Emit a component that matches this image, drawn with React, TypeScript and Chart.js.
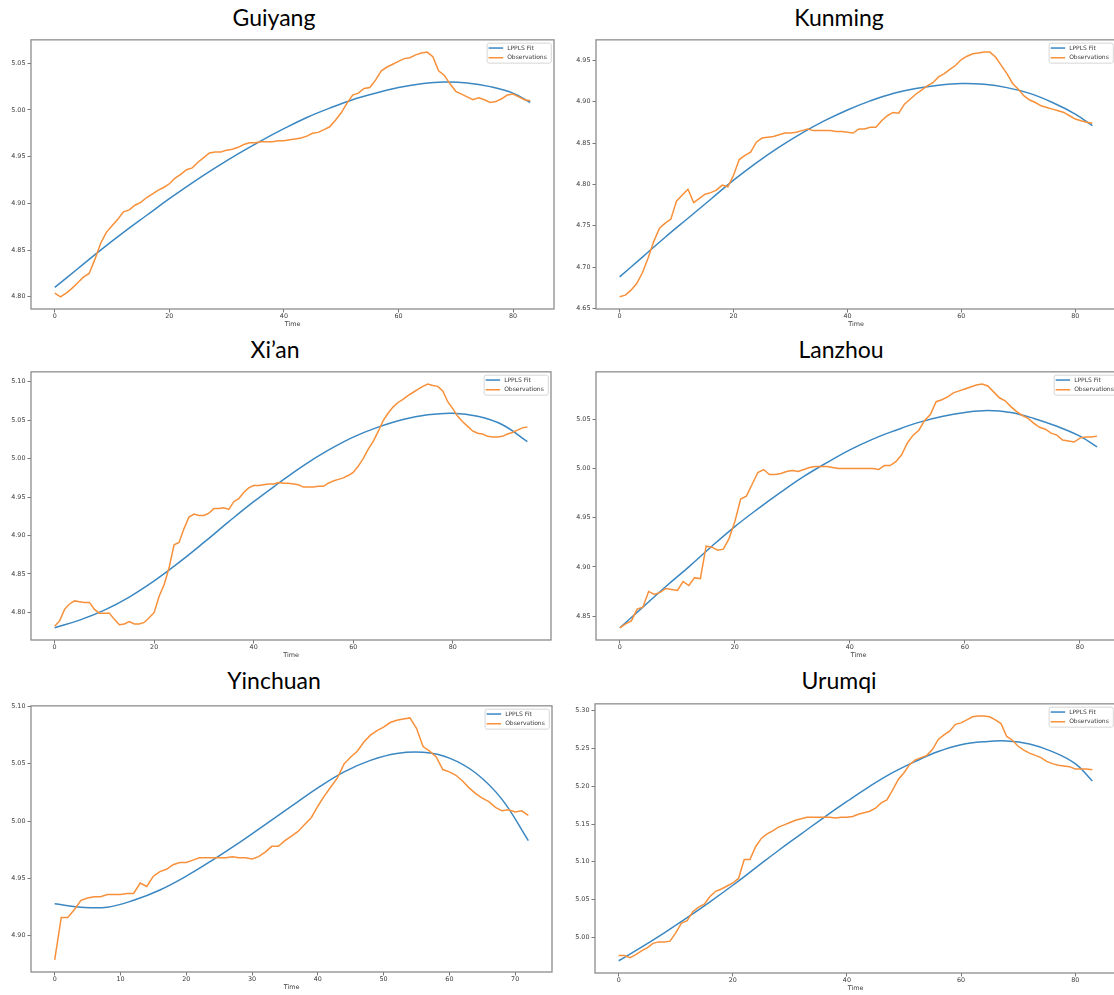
import React, { useEffect, useRef } from "react";
import { Chart, registerables } from "chart.js";

Chart.register(...registerables);

// ---------------- DATA ----------------
const guiyangObs = [4.804, 4.8, 4.804, 4.809, 4.815, 4.821, 4.825, 4.84, 4.857, 4.869, 4.876, 4.883, 4.891, 4.893, 4.898, 4.901, 4.906, 4.91, 4.914, 4.917, 4.921, 4.927, 4.931, 4.936, 4.938, 4.944, 4.949, 4.954, 4.955, 4.955, 4.957, 4.958, 4.96, 4.963, 4.965, 4.965, 4.966, 4.966, 4.966, 4.967, 4.967, 4.968, 4.969, 4.97, 4.972, 4.975, 4.976, 4.979, 4.982, 4.989, 4.997, 5.007, 5.016, 5.018, 5.023, 5.024, 5.032, 5.042, 5.046, 5.049, 5.052, 5.055, 5.056, 5.059, 5.061, 5.062, 5.057, 5.042, 5.037, 5.028, 5.02, 5.017, 5.014, 5.011, 5.013, 5.011, 5.008, 5.009, 5.012, 5.016, 5.017, 5.014, 5.011, 5.01];
const guiyangFitT = [0, 4, 8, 12, 16, 20, 24, 28, 32, 36, 40, 44, 48, 52, 56, 60, 64, 68, 72, 76, 80, 83];
const guiyangFitV = [4.81, 4.83, 4.85, 4.869, 4.887, 4.905, 4.922, 4.938, 4.953, 4.967, 4.98, 4.992, 5.002, 5.011, 5.018, 5.024, 5.028, 5.03, 5.029, 5.025, 5.018, 5.008];
const guiyangXTicks = [0, 20, 40, 60, 80];
const guiyangYTicks = [4.8, 4.85, 4.9, 4.95, 5.0, 5.05];

const kunmingObs = [4.664, 4.666, 4.672, 4.68, 4.693, 4.711, 4.731, 4.747, 4.753, 4.758, 4.78, 4.787, 4.794, 4.778, 4.783, 4.788, 4.79, 4.793, 4.799, 4.797, 4.811, 4.83, 4.835, 4.839, 4.851, 4.856, 4.857, 4.858, 4.86, 4.862, 4.862, 4.863, 4.865, 4.867, 4.865, 4.865, 4.865, 4.865, 4.864, 4.864, 4.863, 4.862, 4.867, 4.867, 4.869, 4.869, 4.877, 4.883, 4.887, 4.886, 4.897, 4.903, 4.909, 4.914, 4.919, 4.923, 4.93, 4.934, 4.939, 4.944, 4.951, 4.955, 4.958, 4.959, 4.96, 4.96, 4.954, 4.944, 4.934, 4.922, 4.915, 4.907, 4.902, 4.899, 4.895, 4.893, 4.891, 4.889, 4.887, 4.883, 4.879, 4.877, 4.875, 4.874];
const kunmingFitT = [0, 4, 8, 12, 16, 20, 24, 28, 32, 36, 40, 44, 48, 52, 56, 60, 64, 68, 72, 76, 80, 83];
const kunmingFitV = [4.688, 4.712, 4.736, 4.759, 4.782, 4.805, 4.826, 4.845, 4.862, 4.877, 4.89, 4.901, 4.91, 4.916, 4.92, 4.922, 4.921, 4.917, 4.91, 4.899, 4.885, 4.871];
const kunmingXTicks = [0, 20, 40, 60, 80];
const kunmingYTicks = [4.65, 4.7, 4.75, 4.8, 4.85, 4.9, 4.95];

const xianObs = [4.782, 4.789, 4.804, 4.811, 4.815, 4.814, 4.813, 4.813, 4.804, 4.799, 4.799, 4.799, 4.791, 4.784, 4.785, 4.788, 4.785, 4.785, 4.787, 4.793, 4.8, 4.821, 4.836, 4.858, 4.888, 4.891, 4.909, 4.924, 4.928, 4.926, 4.926, 4.929, 4.935, 4.935, 4.936, 4.934, 4.944, 4.948, 4.956, 4.962, 4.965, 4.965, 4.966, 4.967, 4.967, 4.969, 4.968, 4.968, 4.967, 4.966, 4.963, 4.963, 4.963, 4.964, 4.964, 4.968, 4.971, 4.973, 4.975, 4.978, 4.982, 4.99, 5.0, 5.012, 5.022, 5.035, 5.049, 5.059, 5.067, 5.073, 5.077, 5.082, 5.086, 5.09, 5.094, 5.097, 5.095, 5.094, 5.088, 5.074, 5.065, 5.055, 5.048, 5.042, 5.036, 5.033, 5.032, 5.029, 5.028, 5.028, 5.029, 5.032, 5.034, 5.037, 5.04, 5.041];
const xianFitT = [0, 5, 10, 15, 20, 25, 30, 35, 40, 45, 50, 55, 60, 65, 70, 75, 80, 85, 90, 95];
const xianFitV = [4.78, 4.79, 4.803, 4.82, 4.841, 4.865, 4.891, 4.918, 4.944, 4.968, 4.991, 5.011, 5.028, 5.041, 5.051, 5.057, 5.059, 5.055, 5.044, 5.022];
const xianXTicks = [0, 20, 40, 60, 80];
const xianYTicks = [4.8, 4.85, 4.9, 4.95, 5.0, 5.05, 5.1];

const lanzhouObs = [4.838, 4.842, 4.845, 4.857, 4.859, 4.875, 4.872, 4.874, 4.878, 4.877, 4.876, 4.885, 4.881, 4.889, 4.888, 4.921, 4.92, 4.917, 4.918, 4.929, 4.946, 4.969, 4.972, 4.984, 4.996, 4.999, 4.994, 4.994, 4.995, 4.997, 4.998, 4.997, 4.999, 5.001, 5.002, 5.002, 5.002, 5.001, 5.0, 5.0, 5.0, 5.0, 5.0, 5.0, 5.0, 4.999, 5.003, 5.003, 5.007, 5.014, 5.026, 5.034, 5.039, 5.049, 5.055, 5.068, 5.07, 5.073, 5.077, 5.079, 5.081, 5.083, 5.085, 5.086, 5.084, 5.078, 5.072, 5.069, 5.063, 5.058, 5.054, 5.051, 5.046, 5.042, 5.04, 5.036, 5.034, 5.029, 5.028, 5.027, 5.031, 5.032, 5.032, 5.033];
const lanzhouFitT = [0, 4, 8, 12, 16, 20, 24, 28, 32, 36, 40, 44, 48, 52, 56, 60, 64, 68, 72, 76, 80, 83];
const lanzhouFitV = [4.838, 4.859, 4.88, 4.9, 4.921, 4.941, 4.959, 4.976, 4.992, 5.006, 5.019, 5.03, 5.039, 5.047, 5.053, 5.057, 5.059, 5.057, 5.051, 5.043, 5.033, 5.022];
const lanzhouXTicks = [0, 20, 40, 60, 80];
const lanzhouYTicks = [4.85, 4.9, 4.95, 5.0, 5.05];

const yinchuanObs = [4.879, 4.916, 4.916, 4.923, 4.931, 4.933, 4.934, 4.934, 4.936, 4.936, 4.936, 4.937, 4.937, 4.946, 4.943, 4.952, 4.956, 4.958, 4.962, 4.964, 4.964, 4.966, 4.968, 4.968, 4.968, 4.968, 4.968, 4.969, 4.968, 4.968, 4.967, 4.969, 4.973, 4.978, 4.978, 4.983, 4.987, 4.991, 4.997, 5.003, 5.013, 5.022, 5.03, 5.038, 5.05, 5.056, 5.061, 5.069, 5.075, 5.079, 5.082, 5.086, 5.088, 5.089, 5.09, 5.081, 5.065, 5.061, 5.056, 5.045, 5.043, 5.04, 5.035, 5.029, 5.024, 5.02, 5.017, 5.012, 5.009, 5.01, 5.008, 5.009, 5.005];
const yinchuanFitT = [0, 4, 8, 12, 16, 20, 24, 28, 32, 36, 40, 44, 48, 52, 56, 60, 64, 68, 72];
const yinchuanFitV = [4.928, 4.925, 4.925, 4.931, 4.94, 4.952, 4.966, 4.981, 4.997, 5.013, 5.029, 5.043, 5.053, 5.059, 5.06, 5.055, 5.042, 5.019, 4.983];
const yinchuanXTicks = [0, 10, 20, 30, 40, 50, 60, 70];
const yinchuanYTicks = [4.9, 4.95, 5.0, 5.05, 5.1];

const urumqiObs = [4.976, 4.976, 4.973, 4.977, 4.982, 4.986, 4.992, 4.994, 4.994, 4.995, 5.006, 5.019, 5.022, 5.034, 5.04, 5.044, 5.054, 5.061, 5.064, 5.068, 5.072, 5.078, 5.103, 5.103, 5.12, 5.131, 5.137, 5.141, 5.146, 5.149, 5.152, 5.155, 5.157, 5.159, 5.159, 5.159, 5.159, 5.159, 5.158, 5.159, 5.159, 5.16, 5.163, 5.165, 5.167, 5.171, 5.178, 5.182, 5.195, 5.209, 5.218, 5.229, 5.235, 5.238, 5.241, 5.249, 5.262, 5.268, 5.273, 5.282, 5.284, 5.288, 5.292, 5.293, 5.293, 5.292, 5.288, 5.283, 5.266, 5.261, 5.253, 5.248, 5.244, 5.241, 5.238, 5.233, 5.23, 5.228, 5.227, 5.226, 5.223, 5.223, 5.223, 5.222];
const urumqiFitT = [0, 4, 8, 12, 16, 20, 24, 28, 32, 36, 40, 44, 48, 52, 56, 60, 64, 68, 72, 76, 80, 83];
const urumqiFitV = [4.969, 4.987, 5.006, 5.026, 5.047, 5.069, 5.092, 5.115, 5.137, 5.159, 5.18, 5.2, 5.218, 5.233, 5.246, 5.255, 5.259, 5.26, 5.256, 5.246, 5.23, 5.207];
const urumqiXTicks = [0, 20, 40, 60, 80];
const urumqiYTicks = [5.0, 5.05, 5.1, 5.15, 5.2, 5.25, 5.3];

const seriesLabels = ["LPPLS Fit", "Observations"];
const xAxisLabel = "Time";

// ---------------- STYLE / LAYOUT ----------------
const FIT_COLOR = "#3a87c2";
const OBS_COLOR = "#f8903a";
const TICK_FONT = { family: "DejaVu Sans", size: 6.4 };
const TEXT_COLOR = "#3a3a3a";

type PanelCfg = {
  title: string;
  obs: number[];
  fitT: number[];
  fitV: number[];
  xTicks: number[];
  yTicks: number[];
  frame: { L: number; T: number; R: number; B: number };
  titleX: number;
  titleBase: number;
};

const panels: PanelCfg[] = [
  { title: "Guiyang", obs: guiyangObs, fitT: guiyangFitT, fitV: guiyangFitV, xTicks: guiyangXTicks, yTicks: guiyangYTicks, frame: { L: 31, T: 36, R: 554, B: 309 }, titleX: 274, titleBase: 26 },
  { title: "Kunming", obs: kunmingObs, fitT: kunmingFitT, fitV: kunmingFitV, xTicks: kunmingXTicks, yTicks: kunmingYTicks, frame: { L: 596, T: 36, R: 1116, B: 309 }, titleX: 839, titleBase: 26 },
  { title: "Xi\u2019an", obs: xianObs, fitT: xianFitT, fitV: xianFitV, xTicks: xianXTicks, yTicks: xianYTicks, frame: { L: 31, T: 368, R: 551, B: 640 }, titleX: 275, titleBase: 358 },
  { title: "Lanzhou", obs: lanzhouObs, fitT: lanzhouFitT, fitV: lanzhouFitV, xTicks: lanzhouXTicks, yTicks: lanzhouYTicks, frame: { L: 596, T: 368, R: 1121, B: 640 }, titleX: 841, titleBase: 358 },
  { title: "Yinchuan", obs: yinchuanObs, fitT: yinchuanFitT, fitV: yinchuanFitV, xTicks: yinchuanXTicks, yTicks: yinchuanYTicks, frame: { L: 31, T: 702, R: 552, B: 972 }, titleX: 274, titleBase: 689 },
  { title: "Urumqi", obs: urumqiObs, fitT: urumqiFitT, fitV: urumqiFitV, xTicks: urumqiXTicks, yTicks: urumqiYTicks, frame: { L: 595, T: 700, R: 1116, B: 973 }, titleX: 839, titleBase: 689 },
];

const PAD = { top: 2, right: 2, bottom: 1, left: 0 };
const X_AXIS_H = 19;
const Y_AXIS_W = 31;

const framePlugin = {
  id: "mplFrameLegend",
  afterDraw(chart: any) {
    const { ctx, chartArea: a } = chart;
    ctx.save();
    ctx.strokeStyle = "#8d8d8d";
    ctx.lineWidth = 1.3;
    ctx.strokeRect(a.left, a.top, a.right - a.left, a.bottom - a.top);

    const ds = chart.data.datasets;
    ctx.font = '6px "DejaVu Sans"';
    const tw = Math.max(...ds.map((d: any) => ctx.measureText(d.label).width));
    const padL = 1.5, hl = 14.5, gap = 4, padR = 4.5;
    const w = padL + hl + gap + tw + padR;
    const h = 20;
    const x = a.right - 2.7 - w;
    const y = a.top + 3.3;
    const r = 2;
    ctx.beginPath();
    ctx.moveTo(x + r, y);
    ctx.lineTo(x + w - r, y);
    ctx.arcTo(x + w, y, x + w, y + r, r);
    ctx.lineTo(x + w, y + h - r);
    ctx.arcTo(x + w, y + h, x + w - r, y + h, r);
    ctx.lineTo(x + r, y + h);
    ctx.arcTo(x, y + h, x, y + h - r, r);
    ctx.lineTo(x, y + r);
    ctx.arcTo(x, y, x + r, y, r);
    ctx.closePath();
    ctx.fillStyle = "rgba(255,255,255,0.85)";
    ctx.fill();
    ctx.strokeStyle = "#d6d6d6";
    ctx.lineWidth = 1;
    ctx.stroke();

    ds.forEach((d: any, i: number) => {
      const cy = y + 4.9 + i * 9.7;
      ctx.strokeStyle = d.borderColor;
      ctx.lineWidth = 1.5;
      ctx.beginPath();
      ctx.moveTo(x + padL, cy);
      ctx.lineTo(x + padL + hl, cy);
      ctx.stroke();
      ctx.fillStyle = TEXT_COLOR;
      ctx.textBaseline = "middle";
      ctx.textAlign = "left";
      ctx.fillText(d.label, x + padL + hl + gap, cy);
    });
    ctx.restore();
  },
};

function Panel({ cfg }: { cfg: PanelCfg }) {
  const ref = useRef<HTMLCanvasElement>(null);
  const { L, T, R, B } = cfg.frame;
  const cl = L - Y_AXIS_W;
  const ct = T - PAD.top;
  const cw = R + PAD.right - cl;
  const ch = B + PAD.bottom + X_AXIS_H - ct;

  useEffect(() => {
    if (!ref.current) return;
    const allY = [...cfg.obs, ...cfg.fitV];
    const yMinD = Math.min(...allY);
    const yMaxD = Math.max(...allY);
    const yr = yMaxD - yMinD;
    const xMaxD = Math.max(cfg.obs.length - 1, cfg.fitT[cfg.fitT.length - 1]);
    const chart = new Chart(ref.current, {
      type: "line",
      data: {
        datasets: [
          {
            label: seriesLabels[0],
            data: cfg.fitT.map((t, i) => ({ x: t, y: cfg.fitV[i] })),
            borderColor: FIT_COLOR,
            backgroundColor: FIT_COLOR,
            borderWidth: 1.5,
            pointRadius: 0,
            tension: 0.4,
            fill: false,
            order: 1,
          },
          {
            label: seriesLabels[1],
            data: cfg.obs.map((v, i) => ({ x: i, y: v })),
            borderColor: OBS_COLOR,
            backgroundColor: OBS_COLOR,
            borderWidth: 1.5,
            pointRadius: 0,
            tension: 0,
            fill: false,
            order: 0,
          },
        ],
      },
      options: {
        animation: false,
        responsive: false,
        maintainAspectRatio: false,
        events: [],
        layout: { padding: PAD },
        plugins: {
          legend: { display: false },
          tooltip: { enabled: false },
          title: { display: false },
        },
        scales: {
          x: {
            type: "linear",
            min: -0.05 * xMaxD,
            max: xMaxD * 1.05,
            afterFit: (s: any) => {
              s.height = X_AXIS_H;
            },
            afterBuildTicks: (s: any) => {
              s.ticks = cfg.xTicks.map((v) => ({ value: v }));
            },
            ticks: {
              font: TICK_FONT,
              color: TEXT_COLOR,
              padding: 0,
              maxRotation: 0,
              autoSkip: false,
              callback: (v: any) => String(v),
            },
            grid: {
              drawOnChartArea: false,
              drawTicks: true,
              tickLength: 3.5,
              tickColor: "#555",
              tickWidth: 0.8,
            },
            border: { display: false },
            title: {
              display: true,
              text: xAxisLabel,
              font: { family: "DejaVu Sans", size: 6.4, lineHeight: 1 },
              color: TEXT_COLOR,
              padding: 0,
            },
          },
          y: {
            type: "linear",
            min: yMinD - 0.05 * yr,
            max: yMaxD + 0.05 * yr,
            afterFit: (s: any) => {
              s.width = Y_AXIS_W;
            },
            afterBuildTicks: (s: any) => {
              s.ticks = cfg.yTicks.map((v) => ({ value: v }));
            },
            ticks: {
              font: TICK_FONT,
              color: TEXT_COLOR,
              padding: 2,
              autoSkip: false,
              callback: (v: any) => Number(v).toFixed(2),
            },
            grid: {
              drawOnChartArea: false,
              drawTicks: true,
              tickLength: 3.5,
              tickColor: "#555",
              tickWidth: 0.8,
            },
            border: { display: false },
          },
        },
      },
      plugins: [framePlugin],
    } as any);
    return () => chart.destroy();
  }, []);

  return (
    <>
      <div
        style={{
          position: "absolute",
          left: cfg.titleX,
          top: cfg.titleBase - 20.4,
          transform: "translateX(-50%)",
          fontFamily: "Lato, 'Open Sans', sans-serif",
          fontSize: 23,
          lineHeight: "23px",
          color: "#000",
          whiteSpace: "nowrap",
        }}
      >
        {cfg.title}
      </div>
      <canvas
        ref={ref}
        width={cw}
        height={ch}
        style={{ position: "absolute", left: cl, top: ct, width: cw, height: ch }}
      />
    </>
  );
}

export default function App() {
  return (
    <div
      style={{
        position: "fixed",
        left: 0,
        top: 0,
        width: 1114,
        height: 995,
        overflow: "hidden",
        background: "#fff",
      }}
    >
      {panels.map((p) => (
        <Panel key={p.title} cfg={p} />
      ))}
    </div>
  );
}
